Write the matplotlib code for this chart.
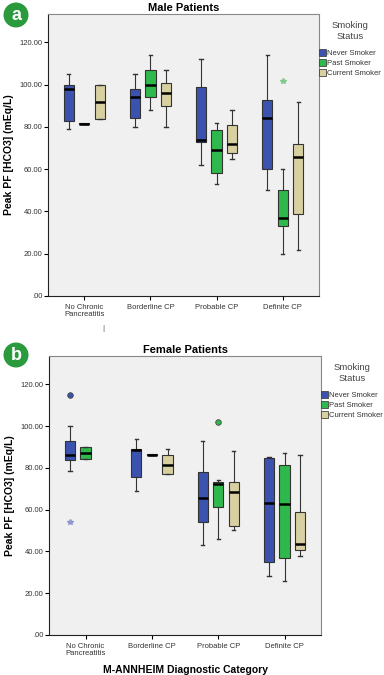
import matplotlib.pyplot as plt
from matplotlib.patches import Patch, Circle
from matplotlib.ticker import FuncFormatter

plt.rcParams['font.family'] = ['Liberation Sans', 'DejaVu Sans']

categories = ["No Chronic\nPancreatitis", "Borderline CP", "Probable CP", "Definite CP"]
groups = ["Never Smoker", "Past Smoker", "Current Smoker"]
colors = ["#3b53ae", "#2fb84b", "#d8d0a0"]

# box stats per group: (whislo, q1, med, q3, whishi) for each category; None = no data
male = {
    "Never Smoker": [(79, 83, 98, 100, 105), (80, 84.3, 94, 98, 105),
                     (62, 73, 74, 99, 112), (50, 60, 84.3, 93, 114)],
    "Past Smoker": [(81.5, 81.3, 81.5, 81.7, 81.5), (88, 94, 100, 107, 114),
                    (53, 58, 69, 78.7, 82), (20, 33.3, 37, 50, 60)],
    "Current Smoker": [(84, 84, 92, 100, 100), (80, 90, 96, 101, 107),
                       (65, 67.5, 72, 81, 88), (22, 39, 66, 72, 92)],
}
male_stars = {"Past Smoker": [None, None, None, 102]}

female = {
    "Never Smoker": [(78.5, 83.7, 86.3, 93, 100), (69, 75.7, 88.4, 89.2, 94),
                     (43, 54, 65.7, 78, 93), (28, 35, 63, 84.8, 85.2)],
    "Past Smoker": [(84, 84, 87, 90, 90), (86.2, 86, 86.2, 86.4, 86.2),
                    (46, 61, 72.4, 73, 74), (26, 37, 62.5, 81.3, 87)],
    "Current Smoker": [None, (77, 77, 81.3, 86, 89), (50, 52, 68.3, 73, 88),
                       (38, 40.5, 43.6, 59, 86)],
}
female_circles = {"Never Smoker": [115, None, None, None],
                  "Past Smoker": [None, None, 102, None]}
female_stars = {"Never Smoker": [54, None, None, None]}

offsets = [-0.235, 0.0, 0.235]
box_w = 0.155


def draw_panel(ax, data, title):
    for gi, g in enumerate(groups):
        stats = []
        pos = []
        for ci, s in enumerate(data[g]):
            if s is None:
                continue
            lo, q1, med, q3, hi = s
            stats.append(dict(whislo=lo, q1=q1, med=med, q3=q3, whishi=hi, fliers=[]))
            pos.append(ci + offsets[gi])
        ax.bxp(stats, positions=pos, widths=box_w, patch_artist=True, showfliers=False,
               boxprops=dict(facecolor=colors[gi], edgecolor="#333333", linewidth=0.8),
               medianprops=dict(color="black", linewidth=1.8),
               whiskerprops=dict(color="#333333", linewidth=0.8),
               capprops=dict(color="#333333", linewidth=1.0),
               capwidths=0.05)
    ax.set_xlim(-0.55, 3.55)
    ax.set_ylim(0, 133.5)
    ax.set_xticks(range(4))
    ax.set_xticklabels(categories, fontsize=5.5, color="#333333", linespacing=0.9)
    ax.set_yticks([0, 20, 40, 60, 80, 100, 120])
    ax.yaxis.set_major_formatter(FuncFormatter(lambda v, p: ".00" if v == 0 else f"{v:.2f}"))
    ax.tick_params(axis="y", labelsize=5.5, labelcolor="#333333", length=3, width=0.8, pad=1)
    ax.tick_params(axis="x", length=3, width=0.8, pad=3)
    ax.set_facecolor("#f0f0f0")
    for sp in ax.spines.values():
        sp.set_color("#888888")
        sp.set_linewidth(0.8)
    ax.spines["left"].set_color("#222222")
    ax.spines["bottom"].set_color("#222222")
    ax.set_title(title, fontsize=8, fontweight="bold", pad=2)
    ax.set_ylabel("Peak PF [HCO3] (mEq/L)", fontsize=7.5, fontweight="bold", labelpad=4)
    handles = [Patch(facecolor=c, edgecolor="#444444", linewidth=0.6, label=g)
               for g, c in zip(groups, colors)]
    leg = ax.legend(handles=handles, title="Smoking\nStatus", loc="upper left",
                    bbox_to_anchor=(0.995, 0.98), frameon=False, fontsize=5.5,
                    title_fontsize=6.8, handlelength=0.9, handleheight=1.0,
                    handletextpad=0.15, labelspacing=0.25, borderpad=0.1,
                    borderaxespad=0.1)
    leg.get_title().set_color("#444444")
    leg.get_title().set_multialignment("center")
    leg._legend_box.sep = 6
    for t in leg.get_texts():
        t.set_color("#333333")


fig = plt.figure(figsize=(3.84, 6.75), dpi=100)
ax1 = fig.add_axes([0.125, 0.5615, 0.706, 0.4178])
ax2 = fig.add_axes([0.128, 0.0593, 0.708, 0.4133])

draw_panel(ax1, male, "Male Patients")
draw_panel(ax2, female, "Female Patients")

# outliers
for gi, g in enumerate(groups):
    for ci, v in enumerate(male_stars.get(g, [None] * 4)):
        if v is not None:
            ax1.plot(ci + offsets[gi], v, marker="*", color="#7fc98f", markersize=4,
                     linestyle="none")
    for ci, v in enumerate(female_circles.get(g, [None] * 4)):
        if v is not None:
            ax2.plot(ci + offsets[gi], v, marker="o", markersize=4, color=colors[gi],
                     markeredgecolor="#444444", markeredgewidth=0.6, linestyle="none")
    for ci, v in enumerate(female_stars.get(g, [None] * 4)):
        if v is not None:
            ax2.plot(ci + offsets[gi], v, marker="*", markersize=4, color="#8d97d0",
                     linestyle="none")

ax2.set_xlabel("M-ANNHEIM Diagnostic Category", fontsize=7.5, fontweight="bold", labelpad=6)

# panel badges (centres in pixels)
for cx, cy, letter in [(16, 15, "a"), (16, 355, "b")]:
    fig.patches.append(Circle((cx / 100, (675 - cy) / 100), 0.125,
                              transform=fig.dpi_scale_trans,
                              facecolor="#2a9a3c", edgecolor="none"))
    fig.text(cx / 384, 1 - (cy + 1) / 675, letter, fontsize=13, fontweight="bold",
             color="white", ha="center", va="center")

fig.text(0.268, 0.513, "|", fontsize=6, color="#555555", ha="center", va="center")

fig.savefig("out.png", dpi=100, facecolor="white")
